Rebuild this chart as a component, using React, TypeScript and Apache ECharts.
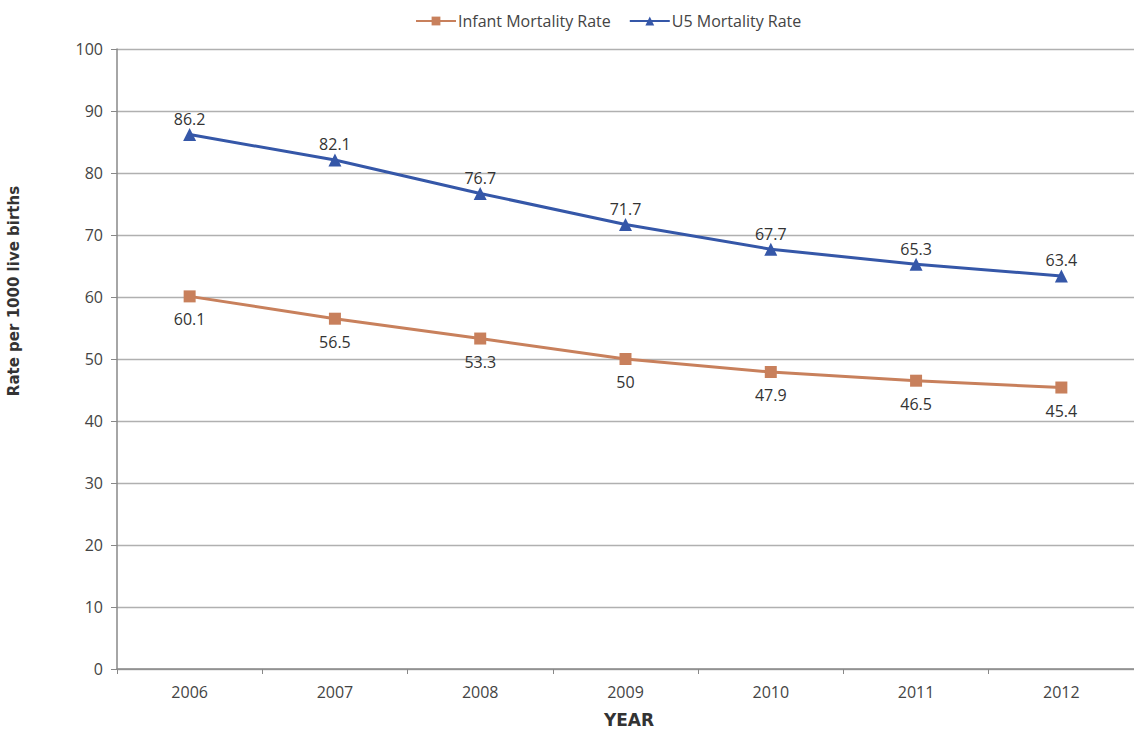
import React, { useEffect, useRef } from "react";
import * as echarts from "echarts";

const years = ["2006", "2007", "2008", "2009", "2010", "2011", "2012"];
const infantMortality = [60.1, 56.5, 53.3, 50, 47.9, 46.5, 45.4];
const u5Mortality = [86.2, 82.1, 76.7, 71.7, 67.7, 65.3, 63.4];

const FONT = "'Open Sans', 'Noto Sans', sans-serif";
const TITLE_FONT = "'DejaVu Sans', sans-serif";

export default function App() {
  const ref = useRef<HTMLDivElement>(null);

  useEffect(() => {
    if (!ref.current) return;
    const chart = echarts.init(ref.current, null, { renderer: "svg" });
    chart.setOption({
      animation: false,
      backgroundColor: "#ffffff",
      legend: {
        top: 8,
        left: 410,
        itemWidth: 40,
        itemHeight: 11,
        itemGap: 18,
        textStyle: { fontFamily: FONT, fontSize: 16, color: "#444", padding: [0, 0, 0, -3] },
        data: ["Infant Mortality Rate", "U5 Mortality Rate"],
      },
      graphic: [
        {
          type: "text",
          x: 14,
          y: 291,
          rotation: Math.PI / 2,
          style: {
            text: "Rate per 1000 live births",
            font: `bold 15px ${TITLE_FONT}`,
            fill: "#333",
            align: "center",
            verticalAlign: "middle",
          },
        },
        {
          type: "text",
          x: 629,
          y: 720,
          style: {
            text: "YEAR",
            font: `bold 17px ${TITLE_FONT}`,
            fill: "#333",
            align: "center",
            verticalAlign: "middle",
          },
        },
      ],
      grid: { left: 117, top: 49, width: 1024, height: 620, containLabel: false },
      xAxis: {
        type: "category",
        data: years,
        boundaryGap: true,
        axisLine: { lineStyle: { color: "#888", width: 1.5 } },
        axisTick: { show: true, length: 5, lineStyle: { color: "#888" } },
        axisLabel: { fontFamily: FONT, fontSize: 16, color: "#444", margin: 15 },
      },
      yAxis: {
        type: "value",
        min: 0,
        max: 100,
        interval: 10,
        axisLine: { show: true, lineStyle: { color: "#888", width: 1.5 } },
        axisTick: { show: true, length: 6, lineStyle: { color: "#888" } },
        axisLabel: { fontFamily: FONT, fontSize: 16, color: "#444", margin: 14 },
        splitLine: { lineStyle: { color: "#b0b0b0", width: 1.3 } },
      },
      series: [
        {
          name: "Infant Mortality Rate",
          type: "line",
          data: infantMortality,
          color: "#c8805c",
          symbol: "rect",
          symbolSize: 12,
          lineStyle: { width: 3, color: "#c8805c" },
          label: {
            show: true,
            position: "bottom",
            distance: 9,
            fontFamily: FONT,
            fontSize: 16,
            color: "#333",
          },
        },
        {
          name: "U5 Mortality Rate",
          type: "line",
          data: u5Mortality,
          color: "#3557a8",
          symbol: "triangle",
          symbolSize: 13,
          lineStyle: { width: 3, color: "#3557a8" },
          label: {
            show: true,
            position: "top",
            distance: 1,
            fontFamily: FONT,
            fontSize: 16,
            color: "#333",
          },
        },
      ],
    });
    return () => chart.dispose();
  }, []);

  return (
    <div
      ref={ref}
      style={{ position: "fixed", left: 0, top: 0, width: 1134, height: 734 }}
    />
  );
}
